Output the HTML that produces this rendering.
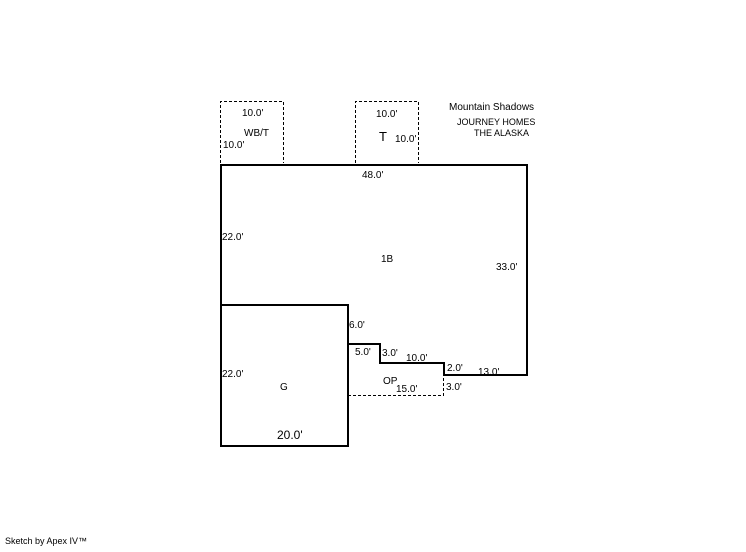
<!DOCTYPE html>
<html><head><style>
body{margin:0;background:#fff;width:746px;height:547px;overflow:hidden}
svg text{font-family:"Liberation Sans",sans-serif;font-size:10px;fill:#000}
</style></head><body>
<svg width="746" height="547" xmlns="http://www.w3.org/2000/svg">
<g fill="none" stroke="#000" stroke-width="1" stroke-dasharray="3,2">
<path d="M220.5 163V101.5H283.5V163"/>
<path d="M355.5 163V101.5H418.5V163"/>
<path d="M348 395.5H443.5V376"/>
</g>
<path d="M221 306V165H527V375H444V363H380V344H348" fill="none" stroke="#000" stroke-width="2"/>
<path d="M221 305H348V446H221Z" fill="none" stroke="#000" stroke-width="2"/>
<text x="242" y="116">10.0'</text>
<text x="244" y="136">WB/T</text>
<text x="223" y="148">10.0'</text>
<text x="376" y="117">10.0'</text>
<text x="379" y="141" style="font-size:13px">T</text>
<text x="395" y="142">10.0'</text>
<text x="449" y="110">Mountain Shadows</text>
<text x="457" y="125" style="font-size:9px">JOURNEY HOMES</text>
<text x="474" y="136" style="font-size:9px">THE ALASKA</text>
<text x="362" y="178">48.0'</text>
<text x="222" y="240">22.0'</text>
<text x="381" y="262">1B</text>
<text x="496" y="270">33.0'</text>
<text x="349" y="328">6.0'</text>
<text x="355" y="355">5.0'</text>
<text x="382" y="356">3.0'</text>
<text x="406" y="361">10.0'</text>
<text x="447" y="371">2.0'</text>
<text x="478" y="375">13.0'</text>
<text x="222" y="377">22.0'</text>
<text x="280" y="390">G</text>
<text x="383" y="384">OP</text>
<text x="396" y="392">15.0'</text>
<text x="446" y="390">3.0'</text>
<text x="277" y="439" style="font-size:12px">20.0'</text>
<text x="5" y="544" style="font-size:9px">Sketch by Apex IV™</text>
</svg>
</body></html>
